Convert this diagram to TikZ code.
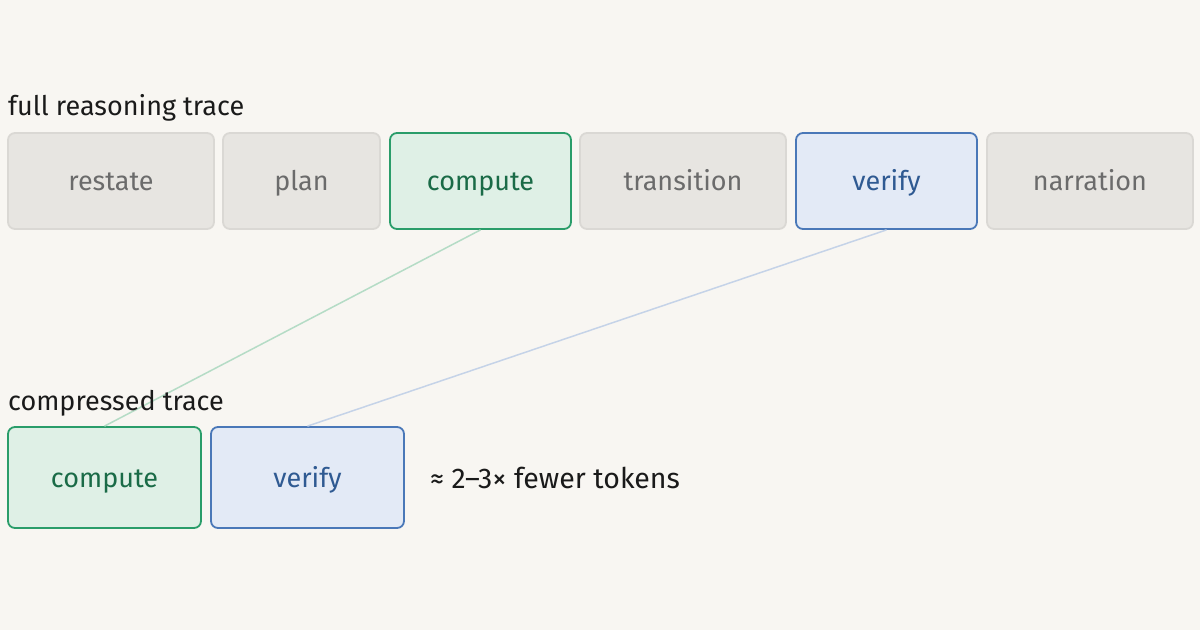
\documentclass[tikz,border=0pt]{standalone}
\usepackage{fontspec}
\setmainfont{Fira Sans}
\definecolor{bg}{HTML}{F8F6F2}
\definecolor{grayfill}{HTML}{E7E5E1}
\definecolor{graydraw}{HTML}{DAD8D4}
\definecolor{graytext}{HTML}{6B6B6B}
\definecolor{greenfill}{HTML}{DFF0E6}
\definecolor{greendraw}{HTML}{2A9D6A}
\definecolor{greentext}{HTML}{1A6B47}
\definecolor{bluefill}{HTML}{E3EAF6}
\definecolor{bluedraw}{HTML}{4A78B8}
\definecolor{bluetext}{HTML}{2F5A92}
\definecolor{greenline}{HTML}{B5DCC6}
\definecolor{blueline}{HTML}{C5D3E8}
\definecolor{ink}{HTML}{1A1A1A}
\tikzset{
  box/.style={rounded corners=7pt, line width=1.8pt, minimum height=96pt, inner sep=0pt,
    text height=19pt, text depth=0pt, font=\fontsize{27}{32}\selectfont},
  graybox/.style={box, fill=grayfill, draw=graydraw, text=graytext},
  greenbox/.style={box, fill=greenfill, draw=greendraw, text=greentext},
  bluebox/.style={box, fill=bluefill, draw=bluedraw, text=bluetext},
  lbl/.style={anchor=base west, inner sep=0pt, text=ink, font=\fontsize{27}{32}\selectfont},
  link/.style={line width=1.5pt}
}
\begin{document}
\begin{tikzpicture}[x=1pt,y=-1pt]
\useasboundingbox[fill=bg] (0,0) rectangle (1200,630);
% top row
\node[graybox, minimum width=206pt] (restate) at (111,181) {restate};
\node[graybox, minimum width=157pt] (plan) at (301.5,181) {plan};
\node[greenbox, minimum width=181pt] (compute1) at (480.5,181) {compute};
\node[graybox, minimum width=206pt] (transition) at (683,181) {transition};
\node[bluebox, minimum width=181pt] (verify1) at (886.5,181) {verify};
\node[graybox, minimum width=206pt] (narration) at (1090,181) {narration};
% bottom row
\node[greenbox, minimum width=193pt, minimum height=101pt] (compute2) at (104.5,477.5) {compute};
\node[bluebox, minimum width=193pt, minimum height=101pt] (verify2) at (307.5,477.5) {verify};
% connectors
\draw[link, greenline] (compute1.south) -- (compute2.north);
\draw[link, blueline] (verify1.south) -- (verify2.north);
% labels
\node[lbl] (title1) at (8,115) {full reasoning trace};
\node[lbl] (title2) at (8,410) {compressed trace};
\node[lbl, font=\fontsize{28.5}{33}\selectfont] (note) at (430,488) {≈ 2–3× fewer tokens};
\end{tikzpicture}
\end{document}
